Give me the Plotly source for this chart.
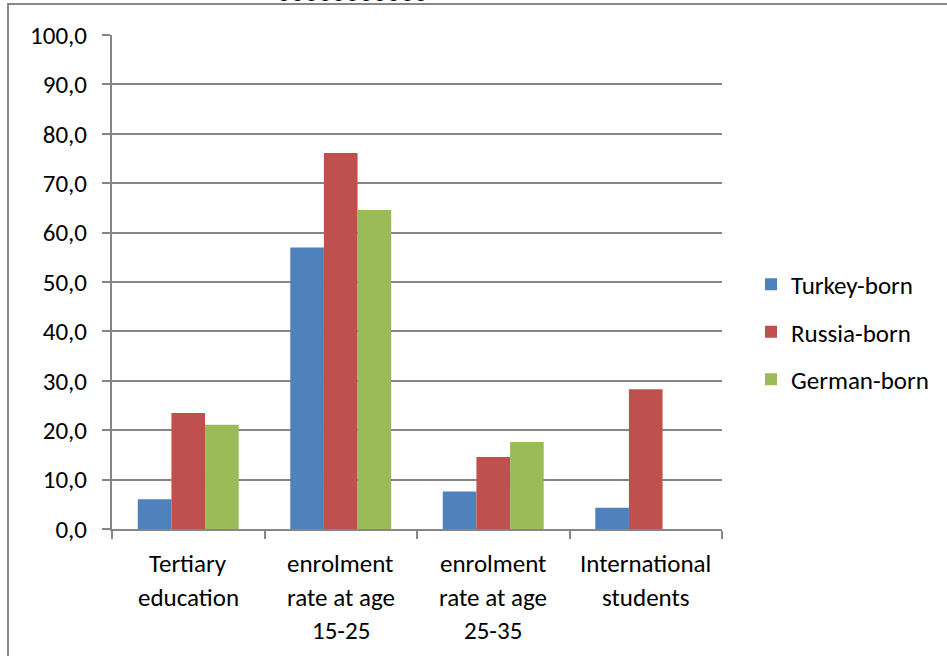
import plotly.graph_objects as go

categories = ["Tertiary education", "enrolment rate at age 15-25",
              "enrolment rate at age 25-35", "International students"]
category_lines = [["Tertiary", "education"],
                  ["enrolment", "rate at age", "15-25"],
                  ["enrolment", "rate at age", "25-35"],
                  ["International", "students"]]
turkey = [6.0, 57.0, 7.6, 4.3]
russia = [23.5, 76.1, 14.6, 28.3]
german = [21.1, 64.6, 17.6, None]
series_names = ["Turkey-born", "Russia-born", "German-born"]
colors = ["#4F81BD", "#C0504D", "#9BBB59"]

FONT = "Calibri, Carlito, 'Noto Sans', sans-serif"
FS = 25

fig = go.Figure()
for i, (name, vals, col) in enumerate(zip(series_names, [turkey, russia, german], colors)):
    fig.add_trace(go.Bar(x=categories, y=vals, name=name, marker_color=col,
                         marker_line_width=0, legendgroup=f"g{i}"))

W, H = 947, 656
ml, mr, mt, mb = 112, 225, 35, 127
pw, ph = W - ml - mr, H - mt - mb

fig.update_layout(
    width=W, height=H,
    margin=dict(l=ml, r=mr, t=mt, b=mb, pad=0),
    paper_bgcolor="white", plot_bgcolor="white",
    separators=", ",
    barmode="group", bargap=0.338, bargroupgap=0,
    font=dict(family=FONT, size=FS, color="#000000"),
    legend=dict(x=(751 - ml) / pw, y=(529 - 332) / ph, xanchor="left", yanchor="middle",
                font=dict(size=FS), tracegroupgap=12, itemsizing="constant",
                itemwidth=30, bgcolor="rgba(0,0,0,0)"),
    showlegend=True,
    xaxis=dict(showline=True, linecolor="#868686", linewidth=2,
               ticks="outside", ticklen=8, tickcolor="#868686", tickwidth=2,
               tickson="boundaries", showgrid=False, showticklabels=False,
               fixedrange=True),
    yaxis=dict(range=[0, 100], dtick=10, tickformat=".1f",
               showline=True, linecolor="#868686", linewidth=2,
               ticks="outside", ticklen=8, tickcolor="#868686", tickwidth=2,
               showgrid=True, gridcolor="#868686", gridwidth=2,
               zeroline=False, tickfont=dict(size=FS), ticklabelstandoff=10),
)

# category labels, one annotation per line to mimic the wide line spacing
line_y = [563, 597, 630]
for cat, lines in zip(categories, category_lines):
    for j, txt in enumerate(lines):
        fig.add_annotation(text=txt, xref="x", yref="paper", x=cat,
                           y=(mt + ph - line_y[j]) / ph, xanchor="center", yanchor="middle",
                           showarrow=False, font=dict(size=FS, color="#000000"))

# outer frame (chart area border, partly cropped)
fig.add_shape(type="rect", xref="paper", yref="paper",
              x0=(8 - ml) / pw, x1=(W + 50 - ml) / pw,
              y0=(mt + ph - (H + 50)) / ph, y1=(mt + ph - 4) / ph,
              line=dict(color="#888888", width=2), fillcolor="rgba(0,0,0,0)", layer="below")

# cropped title fragment at the very top
fig.add_annotation(text="ooooooooooo", xref="paper", yref="paper",
                   x=(352 - ml) / pw, y=(mt + ph - 10) / ph, xanchor="center", yanchor="bottom",
                   showarrow=False, font=dict(size=26, color="#000000"))

fig.write_html("out.html")
